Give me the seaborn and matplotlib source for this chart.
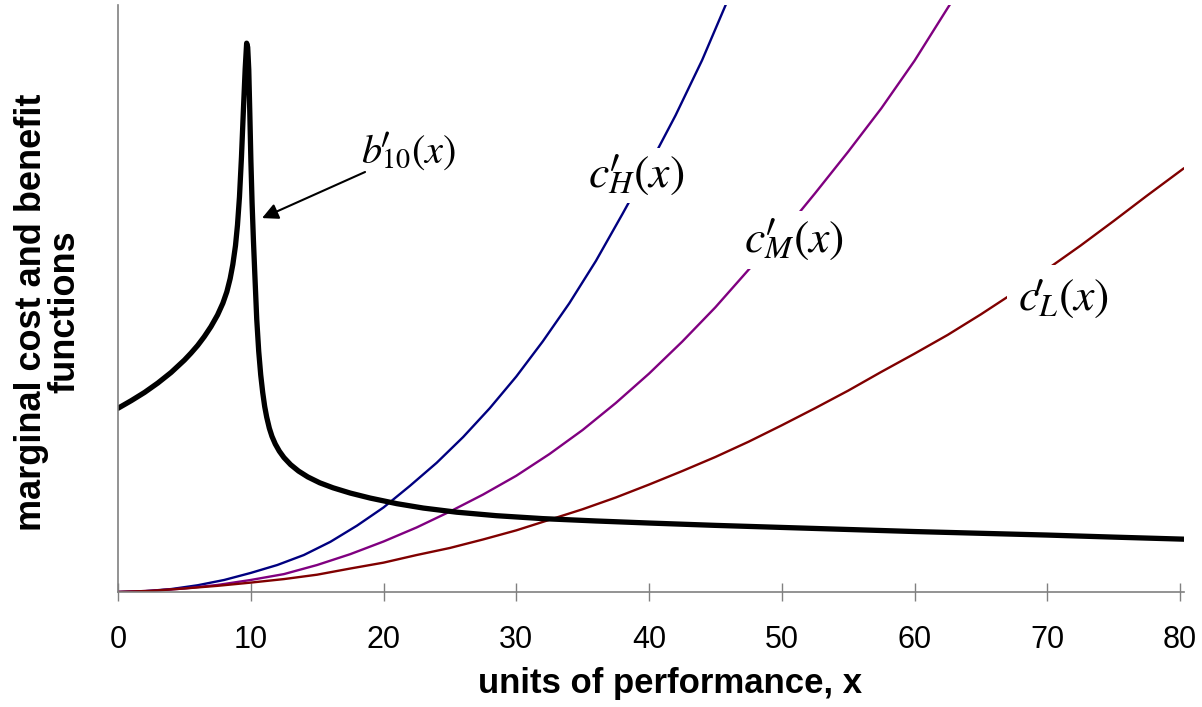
import matplotlib
matplotlib.use("Agg")
import matplotlib.pyplot as plt
import seaborn as sns

# ---- data ----
x_ticks = [0, 10, 20, 30, 40, 50, 60, 70, 80]

benefit_x = [0, 1, 2, 3, 4, 5, 5.5, 6, 6.5, 7, 7.5, 7.9, 8.2, 8.45, 8.65, 8.85,
             9.0, 9.15, 9.3, 9.45, 9.58, 9.69, 9.77, 9.85, 9.93, 10.01, 10.1,
             10.2, 10.3, 10.45, 10.6, 10.75, 10.9, 11.05, 11.2, 11.4, 11.6,
             11.85, 12.15, 12.5, 13.0, 13.6, 14.3, 15.2, 16.2, 17.5, 19.0, 21.0,
             23.0, 25.5, 28.5, 32, 36, 40, 45, 50, 55, 60, 65, 70, 75, 80.3]
benefit_y = [31.3, 32.6, 34.0, 35.6, 37.4, 39.5, 40.7, 42.0, 43.5, 45.2, 47.2,
             49.2, 51.15, 53.4, 55.8, 59.0, 62.5, 67.3, 74.05, 82.3, 89.1, 93.5,
             92.8, 89.0, 81.5, 73.5, 66.3, 60.0, 54.5, 46.5, 41.0, 37.0, 34.0,
             31.6, 29.8, 27.9, 26.5, 25.2, 24.0, 22.9, 21.7, 20.6, 19.6, 18.6,
             17.75, 16.85, 16.0, 15.05, 14.3, 13.6, 13.0, 12.5, 12.1, 11.75, 11.35,
             11.0, 10.65, 10.3, 10.0, 9.7, 9.35, 9.0]

high_x = [0, 2, 4, 6, 8, 10, 12, 14, 16, 18, 20, 22, 24, 26, 28, 30, 32, 34, 36,
          38, 40, 42, 44, 46]
high_y = [0, 0.13, 0.5, 1.15, 2.05, 3.25, 4.6, 6.3, 8.55, 11.3, 14.4, 18.1, 22.0,
          26.4, 31.3, 36.7, 42.7, 49.2, 56.4, 64.4, 72.6, 81.2, 90.6, 101.2]

mid_x = [0, 2.5, 5, 7.5, 10, 12.5, 15, 17.5, 20, 22.5, 25, 27.5, 30, 32.5, 35,
         37.5, 40, 42.5, 45, 47.5, 50, 52.5, 55, 57.5, 60, 62.5, 63.5]
mid_y = [0, 0.2, 0.6, 1.2, 2.05, 3.05, 4.6, 6.45, 8.6, 11.0, 13.7, 16.6, 19.8,
         23.5, 27.6, 32.2, 37.2, 42.65, 48.5, 54.9, 61.0, 67.9, 75.0, 82.4, 90.5,
         99.5, 103.0]

low_x = [0, 2.5, 5, 7.5, 10, 12.5, 15, 17.5, 20, 22.5, 25, 27.5, 30, 32.5, 35,
         37.5, 40, 42.5, 45, 47.5, 50, 52.5, 55, 57.5, 60, 62.5, 65, 67.5, 70,
         72.5, 75, 77.5, 80.3]
low_y = [0, 0.2, 0.6, 1.05, 1.6, 2.2, 2.95, 4.0, 5.0, 6.3, 7.5, 8.95, 10.5, 12.3,
         14.1, 16.1, 18.3, 20.6, 23.0, 25.6, 28.4, 31.3, 34.3, 37.5, 40.6, 43.8,
         47.3, 51.0, 55.0, 59.0, 63.2, 67.5, 72.2]

x_label = "units of performance, x"
y_label = "marginal cost and benefit\nfunctions"
curve_labels = [r"$b_{10}(x)$", r"$c_{H}(x)$", r"$c_{M}(x)$", r"$c_{L}(x)$"]
label_x = [21.88, 39.06, 50.92, 71.26]
label_y = [74.96, 71.0, 59.97, 50.17]

# ---- style ----
sns.set_theme(style="white")
plt.rcParams["font.family"] = ["Liberation Sans", "DejaVu Sans"]
plt.rcParams["mathtext.fontset"] = "stix"

fig = plt.figure(figsize=(12.02, 7.07), dpi=100)
ax = fig.add_axes([118 / 1202, 1 - 592 / 707, (1184 - 118) / 1202, (592 - 5) / 707])

sns.lineplot(x=high_x, y=high_y, color="#000080", lw=1.7, ax=ax, estimator=None, sort=False)
sns.lineplot(x=mid_x, y=mid_y, color="#800080", lw=1.7, ax=ax, estimator=None, sort=False)
sns.lineplot(x=low_x, y=low_y, color="#800000", lw=1.7, ax=ax, estimator=None, sort=False)
sns.lineplot(x=benefit_x, y=benefit_y, color="black", lw=3.8, ax=ax, estimator=None,
             sort=False, solid_capstyle="round", solid_joinstyle="round")

ax.set_xlim(0, 80.3)
ax.set_ylim(0, 100)
ax.set_xticks(x_ticks)
ax.set_xticklabels([str(t) for t in x_ticks])
ax.set_yticks([])

for s in ["top", "right"]:
    ax.spines[s].set_visible(False)
for s in ["left", "bottom"]:
    ax.spines[s].set_color("#808080")
    ax.spines[s].set_linewidth(1.2)

ax.tick_params(axis="x", direction="inout", length=13, width=1.0, color="#808080",
               labelsize=22, labelcolor="black", pad=17, bottom=True)

ax.set_xlabel(x_label, fontsize=25, fontweight="bold", color="black")
ax.xaxis.set_label_coords((670 - 118) / 1066, (592 - 684) / 587)
ax.xaxis.label.set_verticalalignment("center")

ax.set_ylabel(y_label, fontsize=26, fontweight="bold", color="black", linespacing=0.95)
ax.yaxis.set_label_coords((48.5 - 118) / 1066, (592 - 312) / 587)
ax.yaxis.label.set_verticalalignment("center")

sizes = [29, 33, 33, 33]
box_pads = [4, 4, 5, 8]
prime_sizes = [22, 24, 24, 24]
prime_offsets = [(-16.9, 9.4), (-16.2, 9.4), (-17.3, 9.4), (-18.7, 7.2)]
for lab, lx, ly, fs, bp, pfs, off in zip(curve_labels, label_x, label_y, sizes,
                                         box_pads, prime_sizes, prime_offsets):
    ax.text(lx, ly, lab, fontsize=fs, ha="center", va="center", color="black", zorder=10,
            bbox=dict(facecolor="white", edgecolor="none", pad=bp))
    ax.annotate(r"$\prime$", xy=(lx, ly), xytext=off, textcoords="offset points",
                fontsize=pfs, ha="center", va="center", color="black", zorder=12,
                math_fontfamily="cm")

ax.annotate("", xy=(10.85, 63.7), xytext=(18.61, 71.55),
            arrowprops=dict(arrowstyle="-|>", color="black", lw=1.5,
                            mutation_scale=24, shrinkA=0, shrinkB=0), zorder=11)

fig.savefig("out.png", dpi=100, facecolor="white")
